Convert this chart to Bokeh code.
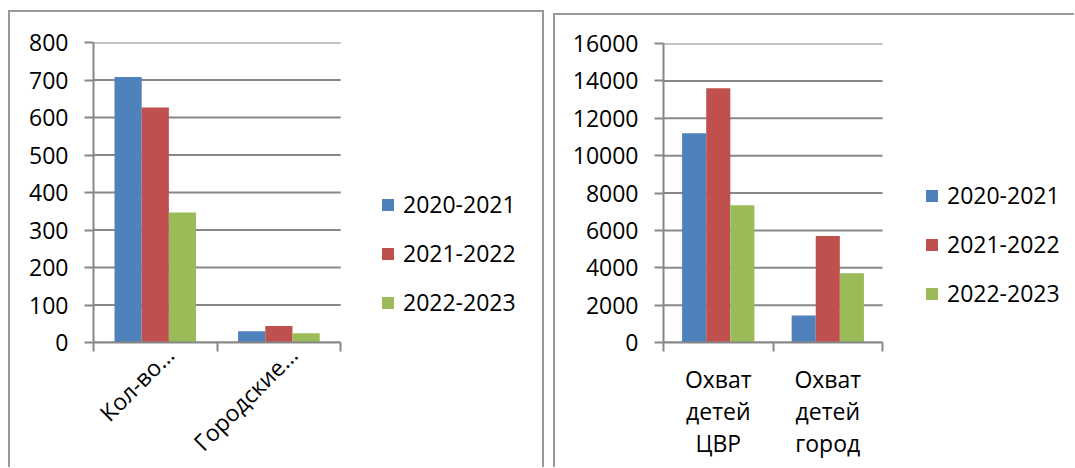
import math
from bokeh.plotting import figure
from bokeh.layouts import row, column
from bokeh.models import (ColumnDataSource, Range1d, FixedTicker, Legend, LegendItem, LinearAxis)
from bokeh.transform import dodge
from bokeh.embed import file_html
from bokeh.resources import INLINE

# ---- data ----
seasons = ["2020-2021", "2021-2022", "2022-2023"]
colors = ["#4F81BD", "#C0504D", "#9BBB59"]

left_categories = ["Кол-во…", "Городские…"]
left_2020_2021 = [708, 30]
left_2021_2022 = [627, 44]
left_2022_2023 = [347, 25]
left_yticks = [0, 100, 200, 300, 400, 500, 600, 700, 800]

right_categories = ["Охват\nдетей\nЦВР", "Охват\nдетей\nгород"]
right_2020_2021 = [11200, 1450]
right_2021_2022 = [13600, 5700]
right_2022_2023 = [7350, 3700]
right_yticks = [0, 2000, 4000, 6000, 8000, 10000, 12000, 14000, 16000]

FONT = "Open Sans"
FS = "23px"
GRAY = "#878787"
BORDER = "2px solid #999999"


def style_labels(ax):
    ax.major_label_text_font = FONT
    ax.major_label_text_font_size = FS
    ax.major_label_text_color = "black"
    ax.major_label_text_line_height = 1.0


def make_chart(cats, series, yticks, width, height, side_px, mb, plot_px, label_angle,
               label_shift, standoffs, legend_xy, legend_spacing, styles, margin):
    n = len(cats)
    # each category occupies 2 units on the numeric x scale; centre at 2*i+1
    centres = [2 * i + 1 for i in range(n)]
    label_pos = [c + label_shift for c in centres]
    xmax = 2 * n
    frame_px = width - side_px - mb[0]     # frame spans to the right edge (legend lives there)
    src = ColumnDataSource(dict(pos=centres, s0=series[0], s1=series[1], s2=series[2]))
    p = figure(x_range=Range1d(0, xmax * frame_px / plot_px),
               y_range=Range1d(yticks[0], yticks[-1]),
               width=width, height=height, output_backend="svg", toolbar_location=None,
               min_border_left=mb[0], min_border_right=0,
               min_border_top=mb[1], min_border_bottom=mb[2],
               styles=styles, margin=margin)
    p.outline_line_color = None
    p.background_fill_color = "white"
    p.border_fill_color = "white"
    p.xgrid.visible = False
    p.ygrid.visible = False
    # horizontal grid lines limited to the plotting area
    p.segment(x0=0, x1=xmax, y0=yticks, y1=yticks, line_color=GRAY, line_width=2,
              level="underlay")

    ya = p.yaxis[0]
    ya.ticker = FixedTicker(ticks=yticks)
    ya.axis_line_color = GRAY
    ya.axis_line_width = 2
    ya.major_tick_line_color = GRAY
    ya.major_tick_line_width = 2
    ya.major_tick_out = 9
    ya.major_tick_in = 0
    ya.minor_tick_line_color = None
    ya.major_label_standoff = 16
    style_labels(ya)

    # category labels, one axis per text line (first axis also draws the
    # axis line and the boundary ticks between categories)
    lines = [c.split("\n") for c in cats]
    nlines = max(len(l) for l in lines)
    for k in range(nlines):
        if k == 0:
            xa = p.xaxis[0]
            xa.ticker = FixedTicker(ticks=label_pos, minor_ticks=[2 * i for i in range(n + 1)])
            xa.bounds = (0, xmax)
            xa.axis_line_color = GRAY
            xa.axis_line_width = 2
            xa.minor_tick_line_color = GRAY
            xa.minor_tick_line_width = 2
            xa.minor_tick_out = 9
            xa.minor_tick_in = 0
        else:
            xa = LinearAxis(ticker=FixedTicker(ticks=label_pos))
            xa.axis_line_color = None
            xa.minor_tick_line_color = None
            p.add_layout(xa, "below")
        xa.major_tick_out = 0
        xa.major_tick_in = 0
        xa.major_tick_line_color = None
        xa.major_label_overrides = {c: (l[k] if k < len(l) else "") for c, l in zip(label_pos, lines)}
        xa.major_label_orientation = label_angle
        xa.major_label_standoff = standoffs[k]
        style_labels(xa)

    offsets = [-0.44, 0.0, 0.44]
    items = []
    for i in range(3):
        r = p.vbar(x=dodge("pos", offsets[i]), top=f"s{i}", width=0.44,
                   source=src, fill_color=colors[i], line_color=None)
        items.append(LegendItem(label=seasons[i], renderers=[r]))
    lg = Legend(items=items, location=legend_xy, glyph_width=15, glyph_height=15,
                label_standoff=8, spacing=legend_spacing, padding=0, margin=0,
                border_line_color=None, background_fill_alpha=0,
                label_text_font=FONT, label_text_font_size=FS, label_text_color="black")
    p.add_layout(lg)
    return p


left = make_chart(left_categories, [left_2020_2021, left_2021_2022, left_2022_2023],
                  left_yticks, 536, 457, 4, (83, 28, 127), 245, math.pi / 4, 0.23, [-1],
                  (287, 24), 17,
                  {"border-top": BORDER, "border-left": BORDER, "border-right": BORDER,
                   "padding-top": "2px", "padding-bottom": "11px"},
                  (10, 0, 0, 8))
right = make_chart(right_categories, [right_2020_2021, right_2021_2022, right_2022_2023],
                   right_yticks, 521, 454, 2, (108, 28, 127), 218, "horizontal", 0.0,
                   [11, -3, -3],
                   (261, 33), 17,
                   {"border-top": BORDER, "border-left": BORDER},
                   (13, 0, 0, 9))

# each chart in its own column so the row does not align the two plot frames
layout = row(column(left), column(right), spacing=0)
open("out.html", "w").write(file_html(layout, INLINE))
